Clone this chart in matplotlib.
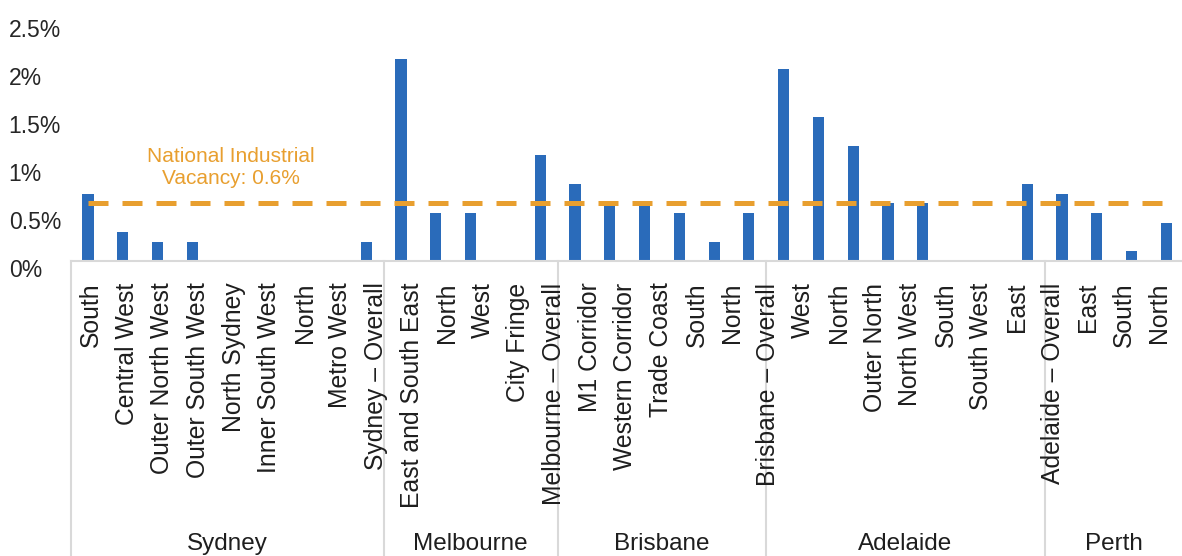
import matplotlib
matplotlib.use("Agg")
import matplotlib.pyplot as plt
import matplotlib.transforms as mtrans
import numpy as np

plt.rcParams['font.family'] = ['Liberation Sans', 'DejaVu Sans']

# data
regions = ["Sydney", "Melbourne", "Brisbane", "Adelaide", "Perth"]
region_sizes = [9, 5, 6, 8, 4]
sub_labels = ["South", "Central West", "Outer North West", "Outer South West", "North Sydney",
              "Inner South West", "North", "Metro West", "Sydney – Overall",
              "East and South East", "North", "West", "City Fringe", "Melbourne – Overall",
              "M1 Corridor", "Western Corridor", "Trade Coast", "South", "North",
              "Brisbane – Overall",
              "West", "North", "Outer North", "North West", "South", "South West", "East",
              "Adelaide – Overall", "East", "South", "North"]
vacancy = [0.7, 0.3, 0.2, 0.2, 0, 0, 0, 0, 0.2,
           2.1, 0.5, 0.5, 0, 1.1,
           0.8, 0.6, 0.6, 0.5, 0.2, 0.5,
           2.0, 1.5, 1.2, 0.6, 0.6, 0, 0, 0.8,
           0.7, 0.5, 0.1, 0.4]
national = 0.6
yticks = [0, 0.5, 1, 1.5, 2, 2.5]
ytick_labels = ["0%", "0.5%", "1%", "1.5%", "2%", "2.5%"]

blue = "#2A6BBA"
orange = "#E89F2F"
grey = "#D9D9D9"

fig = plt.figure(figsize=(11.82, 5.56), dpi=100)
ax = fig.add_axes([70.6 / 1182, 295 / 556, 1 - 70.6 / 1182, 240 / 556])

x = np.arange(len(vacancy))
ax.bar(x, vacancy, width=0.32, color=blue, zorder=2)
ax.plot(x, [national] * len(x), color=orange, lw=3.6, dashes=(4, 2.8),
        solid_capstyle='butt', dash_capstyle='butt', zorder=3)
ax.text(4.1, 0.97, "National Industrial\nVacancy: 0.6%", color=orange,
        fontsize=15, ha='center', va='center', linespacing=1.2)

ax.set_xlim(-0.5, 31.45)
ax.set_ylim(0, 2.5)

for s in ['top', 'right', 'left']:
    ax.spines[s].set_visible(False)
ax.spines['bottom'].set_color(grey)
ax.spines['bottom'].set_linewidth(1.5)

ax.set_yticks(yticks)
ax.set_yticklabels(ytick_labels, fontsize=16.5, color="#262626")
ax.tick_params(axis='y', length=0, pad=44.6)
shift = mtrans.ScaledTranslation(0, -0.07, fig.dpi_scale_trans)
for lab in ax.get_yticklabels():
    lab.set_horizontalalignment('left')
    lab.set_transform(lab.get_transform() + shift)

# the sub labels sit a little off the bars in the source
ax.set_xticks(np.linspace(0.09, 30.8, len(sub_labels)))
ax.set_xticklabels(sub_labels, rotation=90, fontsize=17.8, color="#1E1E1E")
ax.tick_params(axis='x', length=0, pad=15.5)

# group separators and region names
xt = ax.get_xaxis_transform()
bounds = np.concatenate([[0], np.cumsum(region_sizes)]) - 0.5
for b in bounds[:-1]:
    ax.plot([b, b], [0, -1.3], color=grey, lw=1.5, transform=xt, clip_on=False, zorder=1)
for name, lo, hi in zip(regions, bounds[:-1], bounds[1:]):
    ax.text((lo + hi) / 2, -1.18, name, transform=xt, ha='center', va='center',
            fontsize=17.5, color="#1E1E1E")

fig.savefig("out.png", dpi=100)
